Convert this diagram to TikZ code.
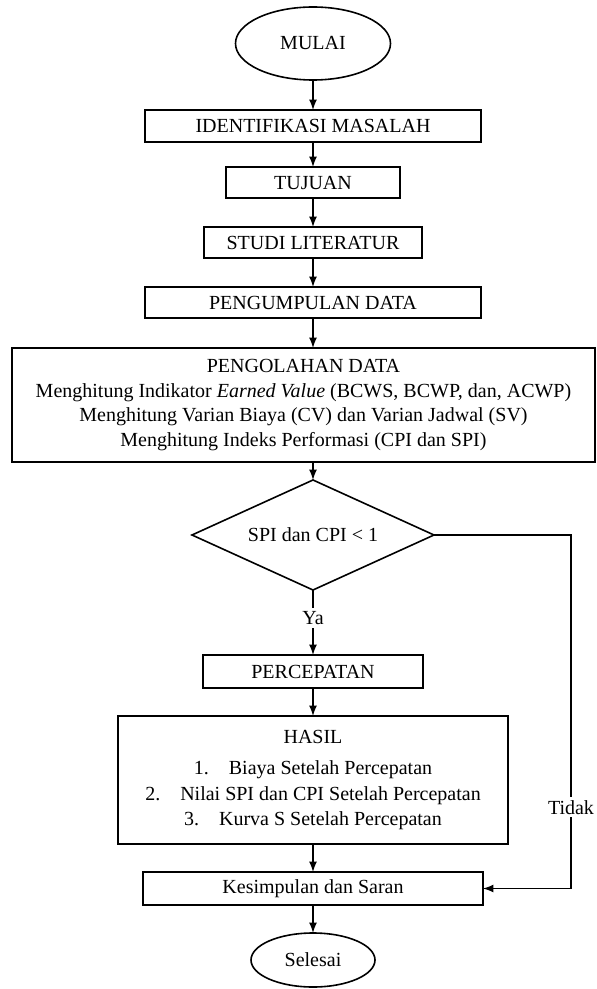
\documentclass[tikz,border=0pt]{standalone}
\usepackage{fontspec}
\setmainfont{Liberation Serif}
\usetikzlibrary{shapes,arrows,positioning}
\tikzstyle{terminal} = [ellipse, draw=black, line width=0.8pt, text centered, inner sep=0pt, outer sep=0pt]
\tikzstyle{proses} = [rectangle, draw=black, line width=0.8pt, text centered, inner sep=2pt, outer sep=0pt, minimum height=15.5pt]
\tikzstyle{keputusan} = [diamond, aspect=2.2, draw=black, line width=0.8pt, text centered, inner sep=0pt, outer sep=0pt, minimum width=121pt, minimum height=55pt]
\tikzstyle{ket} = [fill=white, inner sep=1.5pt]
\tikzstyle{tedge}  = [draw, line width=0.8pt, >=latex, ->]

\begin{document}
\begin{tikzpicture}
\useasboundingbox (0,0) rectangle (298.5pt,-494.5pt);

% nodes =============================
\node[terminal, minimum width=77.5pt, minimum height=36.5pt] (mulai) at (156.5pt,-21.75pt) {MULAI};
\node[proses, minimum width=168pt, minimum height=16pt, below=15pt of mulai] (identifikasi) {IDENTIFIKASI MASALAH};
\node[proses, minimum width=87pt, below=12.5pt of identifikasi] (tujuan) {TUJUAN};
\node[proses, minimum width=109pt, below=14.5pt of tujuan] (studi) {STUDI LITERATUR};
\node[proses, minimum width=168pt, below=14.5pt of studi] (pengumpulan) {PENGUMPULAN DATA};
\node[proses, minimum width=291.5pt, minimum height=57pt, align=center, font=\fontsize{10}{12.2}\selectfont, below=15pt of pengumpulan, xshift=-4.75pt] (pengolahan) {PENGOLAHAN DATA\\ Menghitung Indikator \textit{Earned Value} (BCWS, BCWP, dan, ACWP)\\ Menghitung Varian Biaya (CV) dan Varian Jadwal (SV)\\ Menghitung Indeks Performasi (CPI dan SPI)};

\node[keputusan, below=9pt of pengolahan, xshift=4.75pt] (cek) {SPI dan CPI < 1};
\node[proses, minimum width=110pt, minimum height=16.5pt, below=32.5pt of cek] (percepatan) {PERCEPATAN};
\node[proses, minimum width=195pt, minimum height=64pt, align=center, font=\fontsize{10}{12.6}\selectfont, below=14pt of percepatan] (hasil) {HASIL\\[3pt] 1.\quad Biaya Setelah Percepatan\\ 2.\quad Nilai SPI dan CPI Setelah Percepatan\\ 3.\quad Kurva S Setelah Percepatan};
\node[proses, minimum width=170pt, minimum height=16.5pt, below=14pt of hasil] (kesimpulan) {Kesimpulan dan Saran};
\node[terminal, minimum width=62pt, minimum height=27pt, below=14pt of kesimpulan] (selesai) {Selesai};
\coordinate (tidakx) at (285.5pt,0);

% edges
\path[tedge] (mulai) -- (identifikasi);
\path[tedge] (identifikasi) -- (tujuan);
\path[tedge] (tujuan) -- (studi);
\path[tedge] (studi) -- (pengumpulan);
\path[tedge] (pengumpulan.south) -- (pengumpulan.south |- pengolahan.north);
\path[tedge] (pengolahan.south -| cek.north) -- (cek.north);
\path[tedge] (cek) -- node[ket, pos=0.43] {Ya} (percepatan);
\path[tedge] (percepatan) -- (hasil);
\path[tedge] (hasil) -- (kesimpulan);
\path[tedge] (kesimpulan) -- (selesai);

% info edges
\path[tedge] (cek.east) -- (cek.east -| tidakx) -- node[ket, pos=0.77] {Tidak} (kesimpulan.east -| tidakx) -- (kesimpulan.east);

\end{tikzpicture}
\end{document}
